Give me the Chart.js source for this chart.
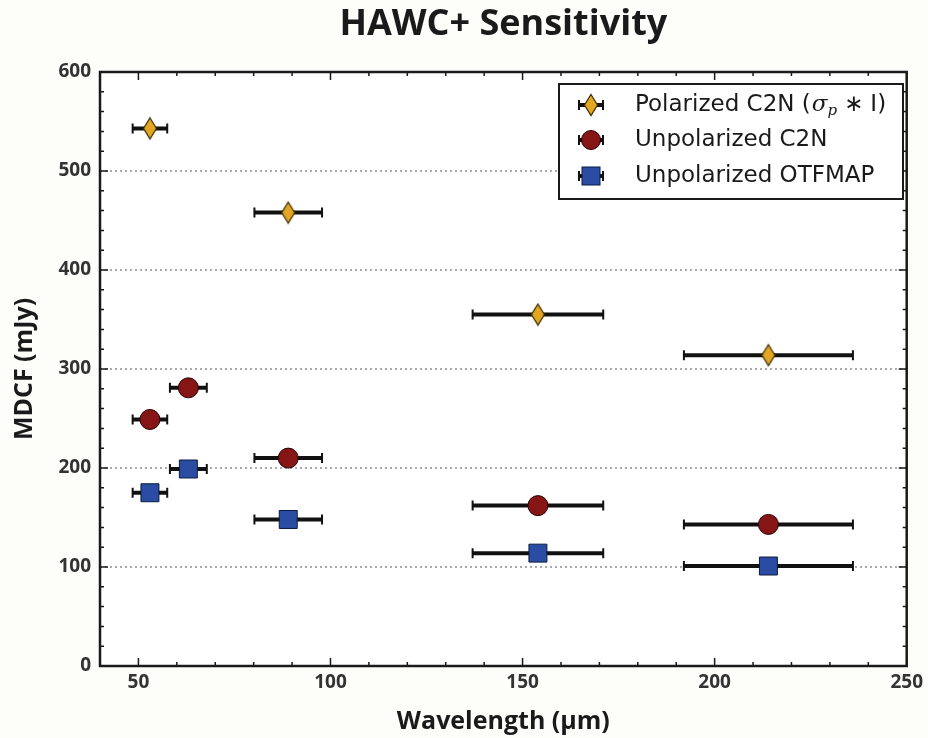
<!DOCTYPE html>
<html>
<head>
<meta charset="utf-8">
<script src="https://cdn.jsdelivr.net/npm/chart.js@4/dist/chart.umd.min.js"></script>
<style>
  html, body { margin: 0; padding: 0; background: #fdfdfa; }
  #wrap { width: 928px; height: 738px; }
</style>
</head>
<body>
<div id="wrap"><canvas id="chart"></canvas></div>
<script>
// data
var wavelength = [53, 63, 89, 154, 214];
var waveErr    = [4.5, 4.8, 8.8, 17, 22];
var polWave    = [53, 89, 154, 214];
var polErr     = [4.5, 8.8, 17, 22];
var polC2N     = [543, 458, 355, 314];
var unpolC2N   = [249, 281, 210, 162, 143];
var unpolOTF   = [175, 199, 148, 114, 101];
var xTicks     = [50, 100, 150, 200, 250];
var yTicks     = [0, 100, 200, 300, 400, 500, 600];

var GOLD = '#e2a623', RED = '#861616', BLUE = '#2a4da3';

function pts(xs, ys) {
    var out = [];
    for (var i = 0; i < xs.length; i++) out.push({x: xs[i], y: ys[i]});
    return out;
}

// thin diamond marker like matplotlib 'd'
function thinDiamond() {
    var c = document.createElement('canvas');
    c.width = 16; c.height = 24;
    var g = c.getContext('2d');
    g.beginPath();
    g.moveTo(8, 1.5); g.lineTo(14.5, 12); g.lineTo(8, 22.5); g.lineTo(1.5, 12); g.closePath();
    g.fillStyle = GOLD; g.fill();
    g.lineWidth = 1.2; g.strokeStyle = '#3a2a00'; g.stroke();
    return c;
}
var diamondImg = thinDiamond();

function drawErrBar(ctx, x0, x1, y) {
    ctx.save();
    ctx.strokeStyle = '#111';
    ctx.lineWidth = 4;
    ctx.beginPath();
    ctx.moveTo(x0, y); ctx.lineTo(x1, y);
    ctx.stroke();
    ctx.lineWidth = 2;
    ctx.beginPath();
    ctx.moveTo(x0, y - 5); ctx.lineTo(x0, y + 5);
    ctx.moveTo(x1, y - 5); ctx.lineTo(x1, y + 5);
    ctx.stroke();
    ctx.restore();
}

var errorBars = {
    id: 'errorBars',
    beforeDatasetsDraw: function (chart) {
        var ctx = chart.ctx, xs = chart.scales.x, ys = chart.scales.y;
        chart.data.datasets.forEach(function (ds) {
            ds.data.forEach(function (p, i) {
                var e = ds.xerr[i];
                drawErrBar(ctx, xs.getPixelForValue(p.x - e), xs.getPixelForValue(p.x + e), ys.getPixelForValue(p.y));
            });
        });
    }
};

var background = {
    id: 'background',
    beforeDraw: function (chart) {
        var ctx = chart.ctx;
        ctx.save();
        ctx.fillStyle = '#fdfdfa';
        ctx.fillRect(0, 0, chart.width, chart.height);
        var a = chart.chartArea;
        ctx.fillStyle = '#ffffff';
        ctx.fillRect(a.left, a.top, a.right - a.left, a.bottom - a.top);
        ctx.restore();
    }
};

// frame, inward ticks and the legend box
var frame = {
    id: 'frame',
    afterDraw: function (chart) {
        var ctx = chart.ctx, a = chart.chartArea, xs = chart.scales.x, ys = chart.scales.y;
        ctx.save();
        ctx.strokeStyle = '#1a1a1a';
        ctx.lineWidth = 1.5;
        ctx.beginPath();
        var v, px, len;
        for (v = 40; v <= 250; v += 10) {
            px = xs.getPixelForValue(v);
            len = (v % 50 === 0) ? 8 : 4;
            ctx.moveTo(px, a.bottom); ctx.lineTo(px, a.bottom - len);
            ctx.moveTo(px, a.top); ctx.lineTo(px, a.top + len);
        }
        for (v = 0; v <= 600; v += 20) {
            px = ys.getPixelForValue(v);
            len = (v % 100 === 0) ? 8 : 4;
            ctx.moveTo(a.left, px); ctx.lineTo(a.left + len, px);
            ctx.moveTo(a.right, px); ctx.lineTo(a.right - len, px);
        }
        ctx.stroke();
        ctx.lineWidth = 2.5;
        ctx.strokeRect(a.left, a.top, a.right - a.left, a.bottom - a.top);

        // legend
        var bx = 559, by = 84, bw = 344, bh = 115;
        ctx.fillStyle = '#ffffff';
        ctx.fillRect(bx, by, bw, bh);
        ctx.lineWidth = 2;
        ctx.strokeRect(bx, by, bw, bh);
        var mx = 591, rows = [105, 140, 176];
        rows.forEach(function (ry) { drawErrBar(ctx, mx - 12, mx + 12, ry); });
        ctx.drawImage(diamondImg, mx - 8, rows[0] - 12);
        ctx.beginPath();
        ctx.arc(mx, rows[1], 9.5, 0, Math.PI * 2);
        ctx.fillStyle = RED; ctx.fill();
        ctx.lineWidth = 1; ctx.strokeStyle = '#2a0000'; ctx.stroke();
        ctx.fillStyle = BLUE;
        ctx.fillRect(mx - 9, rows[2] - 9, 18, 18);
        ctx.strokeStyle = '#0a1a40'; ctx.strokeRect(mx - 9, rows[2] - 9, 18, 18);

        ctx.fillStyle = '#1a1a1a';
        ctx.textBaseline = 'middle';
        ctx.textAlign = 'left';
        var tx = 635, f = '23px "DejaVu Sans"';
        ctx.font = f;
        var s1 = 'Polarized C2N (';
        ctx.fillText(s1, tx, rows[0]);
        var x = tx + ctx.measureText(s1).width + 1;
        ctx.font = 'italic 23px "DejaVu Serif"';
        ctx.fillText('σ', x, rows[0]);
        x += ctx.measureText('σ').width;
        ctx.font = 'italic 15px "DejaVu Serif"';
        ctx.fillText('p', x, rows[0] + 6);
        x += ctx.measureText('p').width + 7;
        ctx.font = f;
        ctx.fillText('∗', x, rows[0]);
        x += ctx.measureText('∗').width + 7;
        ctx.fillText('I)', x, rows[0]);
        ctx.fillText('Unpolarized C2N', tx, rows[1]);
        ctx.fillText('Unpolarized OTFMAP', tx, rows[2]);
        ctx.restore();
    }
};

var tickFont = {family: '"Open Sans"', size: 19, weight: 'bold'};
var labelFont = {family: '"Open Sans"', size: 25, weight: 'bold'};

new Chart(document.getElementById('chart'), {
    type: 'scatter',
    data: {
        datasets: [
            {
                label: 'Polarized C2N',
                data: pts(polWave, polC2N),
                xerr: polErr,
                pointStyle: diamondImg
            },
            {
                label: 'Unpolarized C2N',
                data: pts(wavelength, unpolC2N),
                xerr: waveErr,
                pointStyle: 'circle',
                pointRadius: 10,
                backgroundColor: RED,
                borderColor: '#2a0000',
                borderWidth: 1
            },
            {
                label: 'Unpolarized OTFMAP',
                data: pts(wavelength, unpolOTF),
                xerr: waveErr,
                pointStyle: 'rect',
                pointRadius: 12.7,
                backgroundColor: BLUE,
                borderColor: '#0a1a40',
                borderWidth: 1
            }
        ]
    },
    options: {
        responsive: true,
        maintainAspectRatio: false,
        animation: false,
        layout: {padding: {left: 0, right: 21, top: 0, bottom: 0}},
        plugins: {
            legend: {display: false},
            tooltip: {enabled: false},
            title: {
                display: true,
                fullSize: false,
                text: 'HAWC+ Sensitivity',
                color: '#1a1a1a',
                font: {family: '"Open Sans"', size: 36, weight: 'bold'},
                padding: {top: 3.4, bottom: 25.4}
            }
        },
        scales: {
            x: {
                type: 'linear',
                min: 40,
                max: 250,
                afterBuildTicks: function (scale) {
                    scale.ticks = xTicks.map(function (v) { return {value: v}; });
                },
                afterFit: function (scale) { scale.height = 72; },
                grid: {display: false, drawTicks: false},
                border: {display: false},
                ticks: {color: '#333', font: tickFont, padding: 5, maxRotation: 0},
                title: {
                    display: true,
                    text: 'Wavelength (µm)',
                    color: '#1a1a1a',
                    font: labelFont,
                    padding: {top: 0, bottom: 1}
                }
            },
            y: {
                type: 'linear',
                min: 0,
                max: 600,
                afterBuildTicks: function (scale) {
                    scale.ticks = yTicks.map(function (v) { return {value: v}; });
                },
                afterFit: function (scale) { scale.width = 100; },
                grid: {color: '#aaaaaa', lineWidth: 2, drawTicks: false},
                border: {display: false, dash: [2, 3]},
                ticks: {color: '#333', font: tickFont, padding: 9},
                title: {
                    display: true,
                    text: 'MDCF (mJy)',
                    color: '#1a1a1a',
                    font: labelFont,
                    padding: {top: 10, bottom: 0}
                }
            }
        }
    },
    plugins: [background, errorBars, frame]
});
</script>
</body>
</html>
